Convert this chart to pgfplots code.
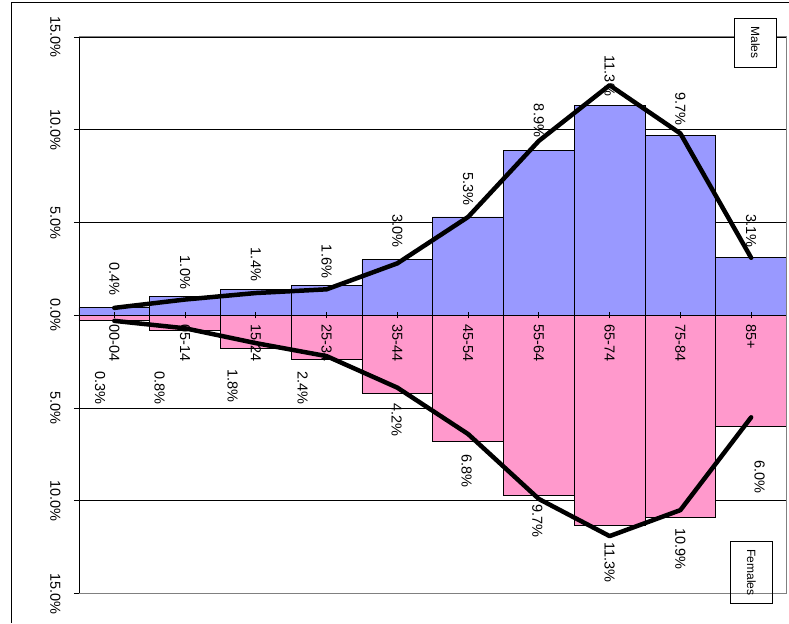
\documentclass[border=0pt]{standalone}
\usepackage{pgfplots}
\pgfplotsset{compat=1.18}
\usepackage{fontspec}
\setmainfont{Liberation Sans}
\definecolor{male}{RGB}{153,153,255}
\definecolor{female}{RGB}{255,153,204}
\newcommand{\lblfont}{\fontsize{14.5}{17}\selectfont}
\begin{document}
\begin{tikzpicture}[x=1pt,y=1pt]
\path (0,0) rectangle (789,623);
% outer chart frame
\draw[black, line width=1pt] (12,0) -- (12,620) -- (789,620);
\begin{axis}[
  at={(79pt,29pt)}, anchor=south west,
  scale only axis, width=708pt, height=557pt,
  xmin=0.5, xmax=10.5, ymin=-15, ymax=15,
  axis x line=middle, axis y line=left,
  axis line style={-, black, line width=0.8pt},
  xtick={1,...,10},
  xticklabels={},
  xtick align=center,
  ytick={-15,-10,...,15},
  yticklabels={15.0\%,10.0\%,5.0\%,0.0\%,5.0\%,10.0\%,15.0\%},
  ytick align=outside,
  major tick length=5pt,
  tick style={black, line width=0.8pt},
  yticklabel style={xshift=-10pt, rotate=-90, anchor=north, font=\lblfont},
  ymajorgrids, grid style={black, line width=0.8pt},
  clip=false,
]
% male bars
\addplot[ybar, bar width=1, bar shift=0pt, fill=male, draw=black, line width=0.8pt]
  coordinates {(1,0.4) (2,1.0) (3,1.4) (4,1.6) (5,3.0) (6,5.3) (7,8.9) (8,11.3) (9,9.7) (10,3.1)};
% female bars
\addplot[ybar, bar width=1, bar shift=0pt, fill=female, draw=black, line width=0.8pt]
  coordinates {(1,-0.3) (2,-0.8) (3,-1.8) (4,-2.4) (5,-4.2) (6,-6.8) (7,-9.7) (8,-11.3) (9,-10.9) (10,-6.0)};
% category ticks over the bars
\pgfplotsinvokeforeach{1,...,10}{
  \draw[black, line width=0.8pt] ([yshift=-3pt]axis cs:#1,0) -- ([yshift=3pt]axis cs:#1,0);
}
% category names, over the bars and under the lines
\begin{scope}[every node/.style={rotate=-90, font=\lblfont, inner sep=0pt, anchor=west}]
\node at ([yshift=-9pt]axis cs:1,0) {00-04};
\node at ([yshift=-9pt]axis cs:2,0) {05-14};
\node at ([yshift=-9pt]axis cs:3,0) {15-24};
\node at ([yshift=-9pt]axis cs:4,0) {25-34};
\node at ([yshift=-9pt]axis cs:5,0) {35-44};
\node at ([yshift=-9pt]axis cs:6,0) {45-54};
\node at ([yshift=-9pt]axis cs:7,0) {55-64};
\node at ([yshift=-9pt]axis cs:8,0) {65-74};
\node at ([yshift=-9pt]axis cs:9,0) {75-84};
\node at ([yshift=-9pt]axis cs:10,0) {85+};
\end{scope}
% trend lines
\addplot[black, line width=4.5pt, line cap=round, line join=round]
  coordinates {(1,0.4) (2,0.85) (3,1.2) (4,1.4) (5,2.8) (6,5.3) (7,9.4) (8,12.4) (9,9.8) (10,3.1)};
\addplot[black, line width=4.5pt, line cap=round, line join=round]
  coordinates {(1,-0.3) (2,-0.7) (3,-1.5) (4,-2.2) (5,-3.9) (6,-6.4) (7,-9.9) (8,-11.9) (9,-10.5) (10,-5.5)};
% plot area border
\draw[gray, line width=1pt] (rel axis cs:0,1) -- (rel axis cs:1,1) -- (rel axis cs:1,0) -- (rel axis cs:0,0);
\begin{scope}[every node/.style={rotate=-90, font=\lblfont, inner sep=0pt}]
% value labels, males
\node at (axis cs:1,1.94) {0.4\%};
\node at (axis cs:2,2.31) {1.0\%};
\node at (axis cs:3,2.74) {1.4\%};
\node at (axis cs:4,2.90) {1.6\%};
\node at (axis cs:5,4.55) {3.0\%};
\node at (axis cs:6,6.80) {5.3\%};
\node at (axis cs:7,10.5) {8.9\%};
\node at (axis cs:8,12.9) {11.3\%};
\node at (axis cs:9,11.1) {9.7\%};
\node at (axis cs:10,4.55) {3.1\%};
% value labels, females
\node at (axis cs:0.80,-3.9) {0.3\%};
\node at (axis cs:1.64,-3.9) {0.8\%};
\node at (axis cs:2.67,-3.82) {1.8\%};
\node at (axis cs:3.66,-3.9) {2.4\%};
\node at (axis cs:4.99,-5.62) {4.2\%};
\node at (axis cs:5.98,-8.4) {6.8\%};
\node at (axis cs:6.98,-11.1) {9.7\%};
\node at (axis cs:8.0,-13.3) {11.3\%};
\node at (axis cs:9.0,-12.6) {10.9\%};
\node at (axis cs:10.12,-8.7) {6.0\%};
\end{scope}
\end{axis}
% legend boxes
\node[draw=black, line width=0.8pt, fill=white, rotate=-90, minimum width=49pt, minimum height=42pt,
  font=\fontsize{12}{14}\selectfont, inner sep=0pt] at (756,580.5) {Males};
\node[draw=black, line width=0.8pt, fill=none, rotate=-90, minimum width=62pt, minimum height=42pt,
  font=\fontsize{12}{14}\selectfont, inner sep=0pt] at (752,50) {Females};
\end{tikzpicture}
\end{document}
